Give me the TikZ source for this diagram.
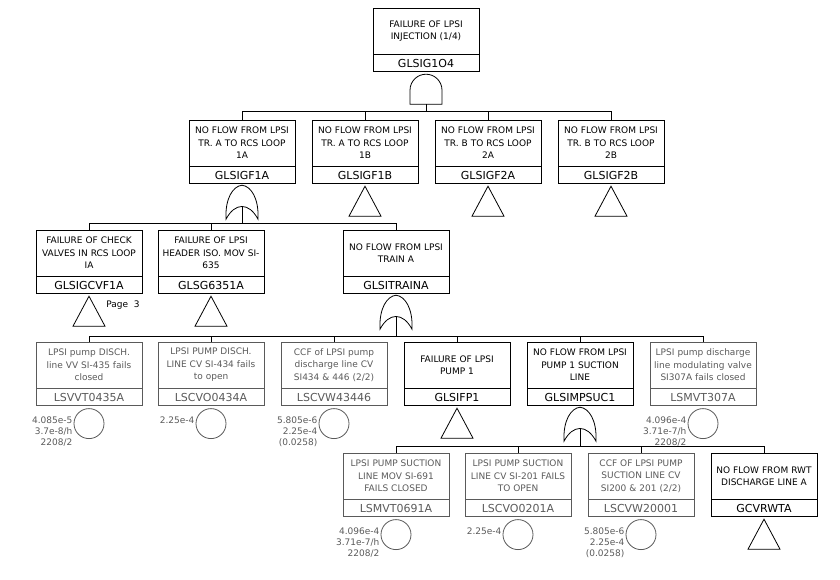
\documentclass[tikz,border=0pt]{standalone}
\usepackage{fontspec}
\setmainfont{DejaVu Sans}
\usepackage{xcolor}
\usetikzlibrary{positioning}
\definecolor{bgray}{HTML}{5A5A5A}

\tikzset{
  evtbox/.style={draw, line width=0.8pt, text width=98pt, inner xsep=4pt, inner ysep=0pt,
    minimum height=46pt, align=center, font=\fontsize{9}{12.5}\selectfont},
  idbox/.style={draw, line width=0.8pt, text width=98pt, inner xsep=4pt, inner ysep=0pt,
    minimum height=17pt, align=center, font=\fontsize{11}{13}\selectfont},
  bevt/.style={draw=bgray, text=bgray},
  bcirc/.style={circle, draw=bgray, line width=0.8pt, minimum size=30pt, inner sep=0pt},
  bnum/.style={text=bgray, inner sep=0pt, align=right, anchor=north east,
    font=\fontsize{9}{11}\selectfont},
  conn/.style={line width=0.8pt},
  andgate/.pic={
    \draw[conn] (-16,-32) -- (-16,-18) arc (180:0:16) -- (16,-32) -- cycle;
    \coordinate (-out) at (0,-32);
  },
  orgate/.pic={
    \draw[conn] (-16,-35) .. controls (-17,-14) and (-9,-2) .. (0,-1)
      .. controls (9,-2) and (17,-14) .. (16,-35)
      .. controls (7,-18) and (-7,-18) .. cycle;
    \coordinate (-out) at (0,-22.2);
  },
  transfer/.pic={
    \draw[conn] (0,-2) -- (-16,-32) -- (16,-32) -- cycle;
  }
}

\begin{document}
\begin{tikzpicture}[x=1pt,y=1pt]
  \useasboundingbox (0,0) rectangle (840,-579);

  % bus lines
  \coordinate (bus1) at (0,-111);
  \coordinate (bus2) at (0,-223);
  \coordinate (bus3) at (0,-336);
  \coordinate (bus4) at (0,-446);

  % top event
  \node[evtbox] (glsig) at (426,-31) {FAILURE OF LPSI\\INJECTION (1/4)};
  \node[idbox, below=0pt of glsig] (glsig-id) {GLSIG1O4};
  \pic (g0) at (glsig-id.south) {andgate};

  % first level
  \node[evtbox] (f1a) at (242,-143) {NO FLOW FROM LPSI\\TR. A TO RCS LOOP\\1A};
  \node[idbox, below=0pt of f1a] (f1a-id) {GLSIGF1A};
  \node[evtbox] (f1b) at (365,-143) {NO FLOW FROM LPSI\\TR. A TO RCS LOOP\\1B};
  \node[idbox, below=0pt of f1b] (f1b-id) {GLSIGF1B};
  \node[evtbox] (f2a) at (488,-143) {NO FLOW FROM LPSI\\TR. B TO RCS LOOP\\2A};
  \node[idbox, below=0pt of f2a] (f2a-id) {GLSIGF2A};
  \node[evtbox] (f2b) at (611,-143) {NO FLOW FROM LPSI\\TR. B TO RCS LOOP\\2B};
  \node[idbox, below=0pt of f2b] (f2b-id) {GLSIGF2B};
  \pic (g1) at (f1a-id.south) {orgate};
  \pic (t1b) at (f1b-id.south) {transfer};
  \pic (t2a) at (f2a-id.south) {transfer};
  \pic (t2b) at (f2b-id.south) {transfer};

  \draw[conn] (g0-out) -- (g0-out |- bus1) -| (f1a.north);
  \draw[conn] (g0-out) -- (g0-out |- bus1) -| (f1b.north);
  \draw[conn] (g0-out) -- (g0-out |- bus1) -| (f2a.north);
  \draw[conn] (g0-out) -- (g0-out |- bus1) -| (f2b.north);

  % second level
  \node[evtbox] (cvf1a) at (89,-253) {FAILURE OF CHECK\\VALVES IN RCS LOOP\\IA};
  \node[idbox, below=0pt of cvf1a] (cvf1a-id) {GLSIGCVF1A};
  \node[evtbox] (g6351) at (211,-253) {FAILURE OF LPSI\\HEADER ISO. MOV SI-\\635};
  \node[idbox, below=0pt of g6351] (g6351-id) {GLSG6351A};
  \node[evtbox] (train) at (396,-253) {NO FLOW FROM LPSI\\TRAIN A};
  \node[idbox, below=0pt of train] (train-id) {GLSITRAINA};
  \pic (tcvf) at (cvf1a-id.south) {transfer};
  \pic (t635) at (g6351-id.south) {transfer};
  \pic (g2) at (train-id.south) {orgate};
  \node[font=\fontsize{9}{11}\selectfont] (pg3) at (123,-305) {Page\ \ 3};

  \draw[conn] (g1-out) -- (g1-out |- bus2) -| (cvf1a.north);
  \draw[conn] (g1-out) -- (g1-out |- bus2) -| (g6351.north);
  \draw[conn] (g1-out) -- (g1-out |- bus2) -| (train.north);

  % third level
  \node[evtbox, bevt] (vt0435) at (89,-365) {LPSI pump DISCH.\\line VV SI-435 fails\\closed};
  \node[idbox, bevt, below=0pt of vt0435] (vt0435-id) {LSVVT0435A};
  \node[evtbox, bevt] (co0434) at (211,-365) {LPSI PUMP DISCH.\\LINE CV SI-434 fails\\to open};
  \node[idbox, bevt, below=0pt of co0434] (co0434-id) {LSCVO0434A};
  \node[evtbox, bevt] (cw43446) at (334,-365) {CCF of LPSI pump\\discharge line CV\\SI434 \& 446 (2/2)};
  \node[idbox, bevt, below=0pt of cw43446] (cw43446-id) {LSCVW43446};
  \node[evtbox] (fp1) at (457,-365) {FAILURE OF LPSI\\PUMP 1};
  \node[idbox, below=0pt of fp1] (fp1-id) {GLSIFP1};
  \node[evtbox] (mpsuc1) at (580,-365) {NO FLOW FROM LPSI\\PUMP 1 SUCTION\\LINE};
  \node[idbox, below=0pt of mpsuc1] (mpsuc1-id) {GLSIMPSUC1};
  \node[evtbox, bevt] (mvt307) at (703,-365) {LPSI pump discharge\\line modulating valve\\SI307A fails closed};
  \node[idbox, bevt, below=0pt of mvt307] (mvt307-id) {LSMVT307A};

  \node[bcirc, below=2pt of vt0435-id] (vt0435-c) {};
  \node[bnum] (vt0435-p) at ([xshift=-1pt,yshift=7pt]vt0435-c.west) {4.085e-5\\3.7e-8/h\\2208/2};
  \node[bcirc, below=2pt of co0434-id] (co0434-c) {};
  \node[bnum] (co0434-p) at ([xshift=-1pt,yshift=7pt]co0434-c.west) {2.25e-4};
  \node[bcirc, below=2pt of cw43446-id] (cw43446-c) {};
  \node[bnum] (cw43446-p) at ([xshift=-1pt,yshift=7pt]cw43446-c.west) {5.805e-6\\2.25e-4\\(0.0258)};
  \node[bcirc, below=2pt of mvt307-id] (mvt307-c) {};
  \node[bnum] (mvt307-p) at ([xshift=-1pt,yshift=7pt]mvt307-c.west) {4.096e-4\\3.71e-7/h\\2208/2};
  \pic (tfp1) at (fp1-id.south) {transfer};
  \pic (g3) at (mpsuc1-id.south) {orgate};

  \draw[conn] (g2-out) -- (g2-out |- bus3) -| (vt0435.north);
  \draw[conn] (g2-out) -- (g2-out |- bus3) -| (co0434.north);
  \draw[conn] (g2-out) -- (g2-out |- bus3) -| (cw43446.north);
  \draw[conn] (g2-out) -- (g2-out |- bus3) -| (fp1.north);
  \draw[conn] (g2-out) -- (g2-out |- bus3) -| (mpsuc1.north);
  \draw[conn] (g2-out) -- (g2-out |- bus3) -| (mvt307.north);

  % fourth level
  \node[evtbox, bevt] (mvt0691) at (396,-476) {LPSI PUMP SUCTION\\LINE MOV SI-691\\FAILS CLOSED};
  \node[idbox, bevt, below=0pt of mvt0691] (mvt0691-id) {LSMVT0691A};
  \node[evtbox, bevt] (co0201) at (518,-476) {LPSI PUMP SUCTION\\LINE CV SI-201 FAILS\\TO OPEN};
  \node[idbox, bevt, below=0pt of co0201] (co0201-id) {LSCVO0201A};
  \node[evtbox, bevt] (cw20001) at (641,-476) {CCF OF LPSI PUMP\\SUCTION LINE CV\\SI200 \& 201 (2/2)};
  \node[idbox, bevt, below=0pt of cw20001] (cw20001-id) {LSCVW20001};
  \node[evtbox] (rwta) at (764,-476) {NO FLOW FROM RWT\\DISCHARGE LINE A};
  \node[idbox, below=0pt of rwta] (rwta-id) {GCVRWTA};

  \node[bcirc, below=2pt of mvt0691-id] (mvt0691-c) {};
  \node[bnum] (mvt0691-p) at ([xshift=-1pt,yshift=7pt]mvt0691-c.west) {4.096e-4\\3.71e-7/h\\2208/2};
  \node[bcirc, below=2pt of co0201-id] (co0201-c) {};
  \node[bnum] (co0201-p) at ([xshift=-1pt,yshift=7pt]co0201-c.west) {2.25e-4};
  \node[bcirc, below=2pt of cw20001-id] (cw20001-c) {};
  \node[bnum] (cw20001-p) at ([xshift=-1pt,yshift=7pt]cw20001-c.west) {5.805e-6\\2.25e-4\\(0.0258)};
  \pic (trwt) at (rwta-id.south) {transfer};

  \draw[conn] (g3-out) -- (g3-out |- bus4) -| (mvt0691.north);
  \draw[conn] (g3-out) -- (g3-out |- bus4) -| (co0201.north);
  \draw[conn] (g3-out) -- (g3-out |- bus4) -| (cw20001.north);
  \draw[conn] (g3-out) -- (g3-out |- bus4) -| (rwta.north);
\end{tikzpicture}
\end{document}
